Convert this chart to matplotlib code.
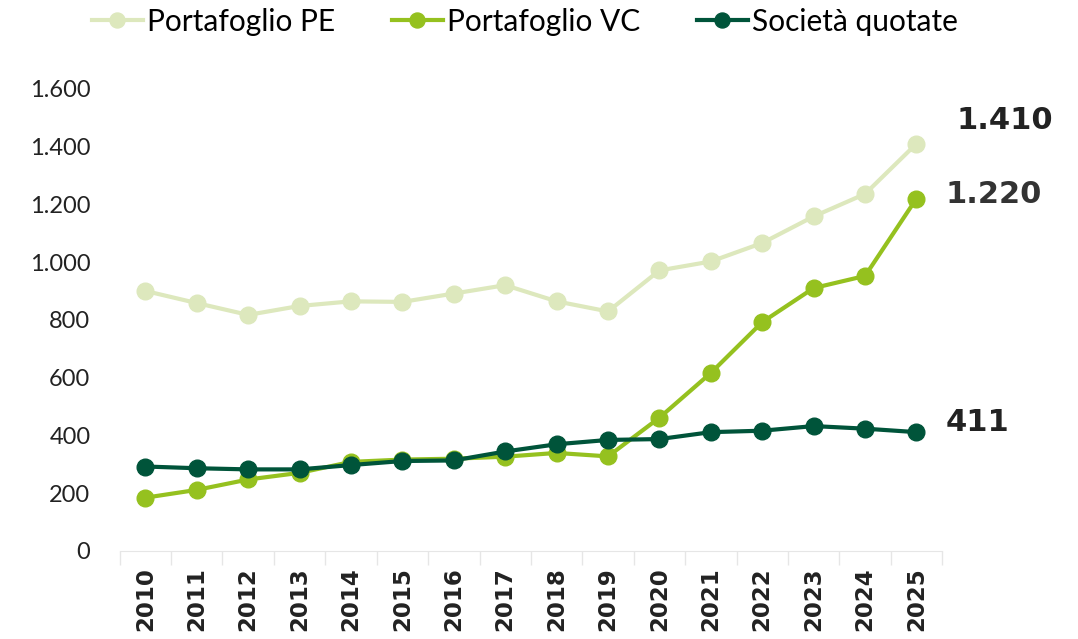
import matplotlib.pyplot as plt
from matplotlib.ticker import FuncFormatter, FixedLocator

years = [str(y) for y in range(2010, 2026)]
pe = [900, 858, 817, 848, 864, 862, 891, 920, 864, 829, 971, 1002, 1066, 1158, 1236, 1410]
vc = [184, 211, 247, 270, 308, 316, 319, 326, 339, 327, 461, 616, 792, 910, 952, 1220]
quot = [292, 286, 282, 282, 297, 311, 313, 344, 369, 384, 387, 411, 416, 432, 423, 411]

names = ["Portafoglio PE", "Portafoglio VC", "Società quotate"]
colors = ["#dde8bd", "#95c11f", "#00543a"]

plt.rcParams['font.family'] = ['Lato', 'DejaVu Sans']

fig = plt.figure(figsize=(10.78, 6.39), dpi=100)
ax = fig.add_axes([0.111, 0.138, 0.763, 0.723])

x = range(len(years))
for vals, name, c in zip([pe, vc, quot], names, colors):
    ax.plot(x, vals, color=c, lw=3, marker='o', ms=12, label=name)

ax.set_xlim(-0.5, len(years) - 0.5)
ax.set_ylim(0, 1600)
ax.set_yticks(range(0, 1601, 200))
ax.yaxis.set_major_formatter(FuncFormatter(lambda v, p: f"{int(v):,}".replace(",", ".")))
ax.set_xticks(list(x))
ax.set_xticklabels(years, rotation=90, fontsize=16.5, fontweight='bold', color='#222222',
                   family='DejaVu Sans')
ax.xaxis.set_minor_locator(FixedLocator([i - 0.5 for i in range(len(years) + 1)]))
ax.tick_params(axis='x', which='major', length=0, pad=12)
ax.tick_params(axis='x', which='minor', length=10, color='#e6e6e6', width=1)
ax.tick_params(axis='y', length=0, labelsize=17, labelcolor='#222222', pad=21)
for s in ['top', 'right', 'left']:
    ax.spines[s].set_visible(False)
ax.spines['bottom'].set_color('#e6e6e6')

# end labels
last = len(years) - 1
ax.annotate(f"{pe[-1]:,}".replace(",", "."), (last, pe[-1]), xytext=(29, 17), textcoords='offset points',
            fontsize=22, fontweight='bold', color='#222222', va='center', family='DejaVu Sans')
ax.annotate(f"{vc[-1]:,}".replace(",", "."), (last, vc[-1]), xytext=(21, 3), textcoords='offset points',
            fontsize=22, fontweight='bold', color='#333333', va='center', family='DejaVu Sans')
ax.annotate(f"{quot[-1]}", (last, quot[-1]), xytext=(21, 7), textcoords='offset points',
            fontsize=22, fontweight='bold', color='#222222', va='center', family='DejaVu Sans')

leg = fig.legend(loc='center', bbox_to_anchor=(0.487, 0.966), ncol=3, frameon=False,
                 fontsize=21.5, handlelength=1.7, handletextpad=0.15, columnspacing=1.9, markerscale=0.9)

fig.savefig("out.png", dpi=100)
